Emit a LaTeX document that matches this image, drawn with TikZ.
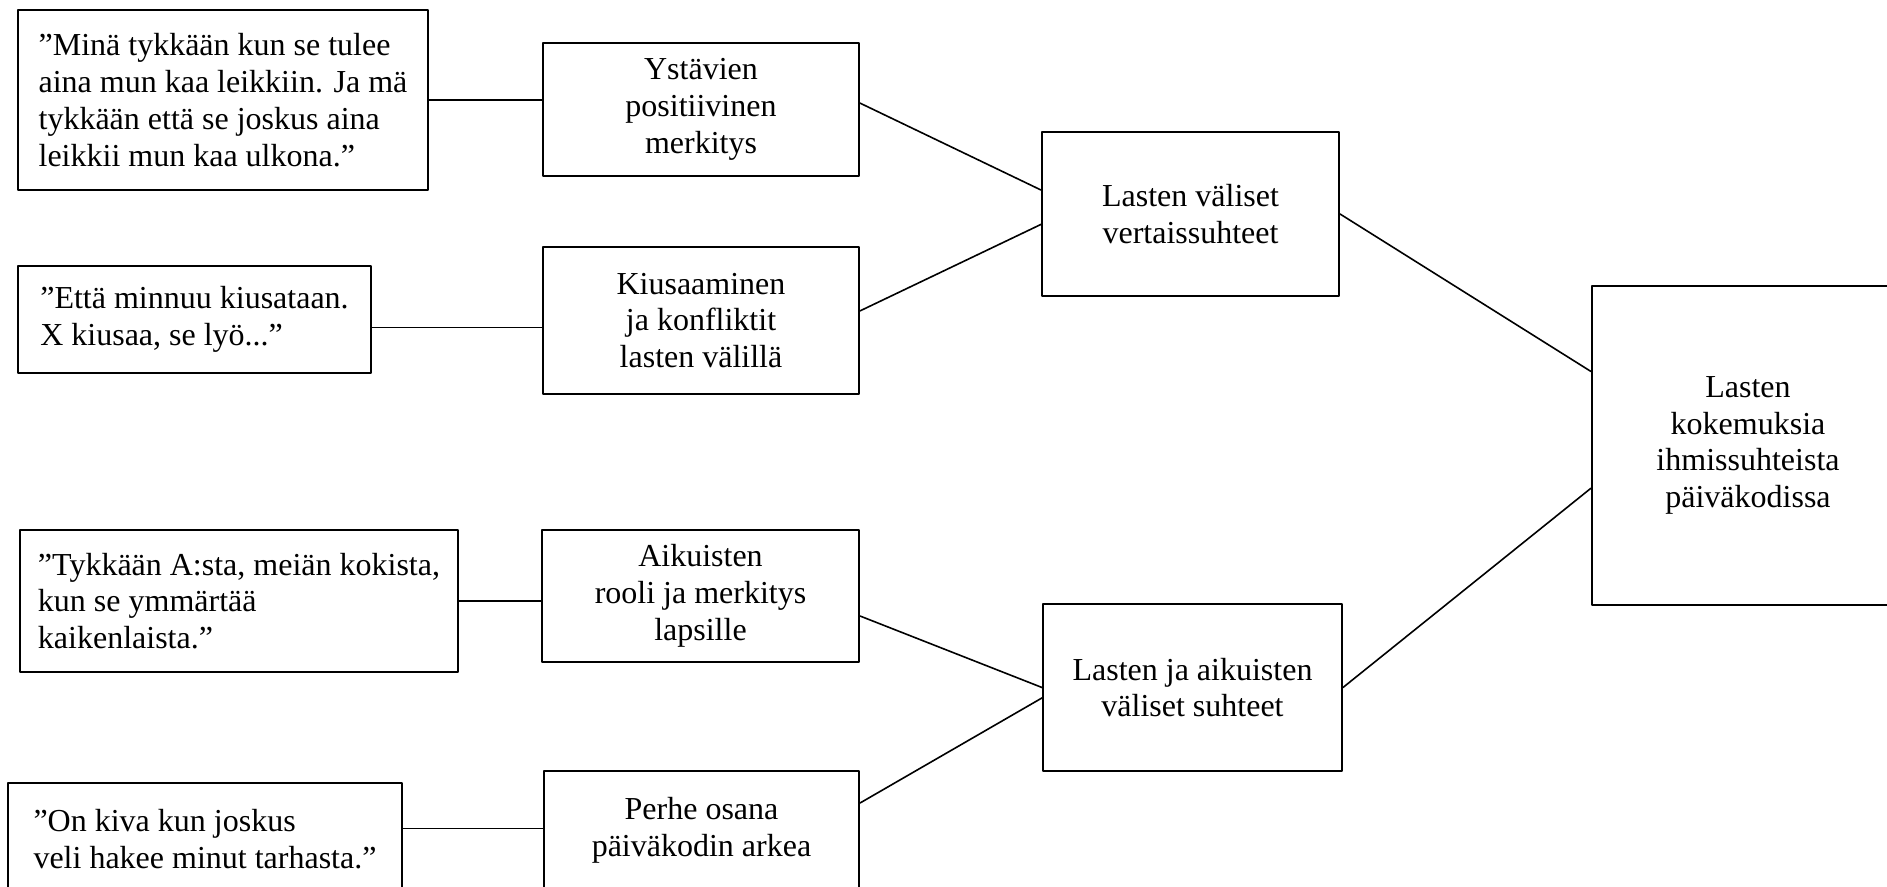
\documentclass[tikz,border=0pt]{standalone}
\usepackage{fontspec}
\setmainfont{Liberation Serif}
\tikzset{
  laatikko/.style={draw, line width=.75pt, align=center, inner sep=2pt},
  lainaus/.style={laatikko, align=left},
}
\begin{document}
\begin{tikzpicture}[x=.375pt, y=-.375pt, font=\fontsize{12}{13.8}\selectfont, line join=round, line cap=round]
		\useasboundingbox (0,0) rectangle (1887,886);
		\clip (0,0) rectangle (1887,886);
			% lainaukset
			\node[lainaus, minimum width=153.75pt, minimum height=67.5pt] (q1) at (223,100) {”Minä tykkään kun se tulee\\aina mun kaa leikkiin. Ja mä\\tykkään että se joskus aina\\leikkii mun kaa ulkona.”};
			\node[lainaus, minimum width=132.4pt, minimum height=40.1pt] (q2) at (194.5,319.5) {”Että minnuu kiusataan.\\X kiusaa, se lyö...”};
			\node[lainaus, minimum width=164.25pt, minimum height=53.25pt] (q3) at (239,601) {”Tykkään A:sta, meiän kokista,\\kun se ymmärtää\\kaikenlaista.”};
			\node[lainaus, minimum width=147.75pt, minimum height=42pt] (q4) at (205,839) {”On kiva kun joskus\\veli hakee minut tarhasta.”};
			% teemat
			\node[laatikko, minimum width=118.5pt, minimum height=49.9pt] (ystavat) at (701,109.5) {Ystävien\\positiivinen\\merkitys};
			\node[laatikko, minimum width=118.5pt, minimum height=55.1pt] (kiusaaminen) at (701,320.5) {Kiusaaminen\\ja konfliktit\\lasten välillä};
			\node[laatikko, minimum width=118.9pt, minimum height=49.5pt] (aikuiset) at (700.5,596) {Aikuisten\\rooli ja merkitys\\lapsille};
			\node[laatikko, minimum width=118.1pt, minimum height=44.6pt] (perhe) at (701.5,830.5) {Perhe osana\\päiväkodin arkea};
			% yläteemat
			\node[laatikko, minimum width=111.4pt, minimum height=61.5pt] (vertaiset) at (1190.5,214) {Lasten väliset\\vertaissuhteet};
			\node[laatikko, minimum width=112.1pt, minimum height=62.6pt] (aikuissuhteet) at (1192.5,687.5) {Lasten ja aikuisten\\väliset suhteet};
			\node[laatikko, minimum width=117pt, minimum height=119.6pt] (paa) at (1748,445.5) {Lasten\\kokemuksia\\ihmissuhteista\\päiväkodissa};
		\begin{scope}[line width=.6pt]
			\foreach \a/\b in {q1/ystavat,q3/aikuiset} \draw (\a.east) -- (\a.east -| \b.west);
			\draw ([yshift=-3pt]q2.east) -- ([yshift=-3pt]q2.east -| kiusaaminen.west);
			\draw ([yshift=4pt]q4.east) -- ([yshift=4pt]q4.east -| perhe.west);
			\draw ([yshift=2.4pt]ystavat.east) -- ([yshift=9pt]vertaiset.west);
			\draw ([yshift=3.6pt]kiusaaminen.east) -- ([yshift=-3.9pt]vertaiset.west);
			\draw ([yshift=-7.5pt]aikuiset.east) -- (aikuissuhteet.west);
			\draw ([yshift=10.3pt]perhe.east) -- ([yshift=-3.9pt]aikuissuhteet.west);
			\draw (vertaiset.east) -- ([yshift=27.75pt]paa.west);
			\draw (aikuissuhteet.east) -- ([yshift=-16pt]paa.west);
		\end{scope}
\end{tikzpicture}
\end{document}
